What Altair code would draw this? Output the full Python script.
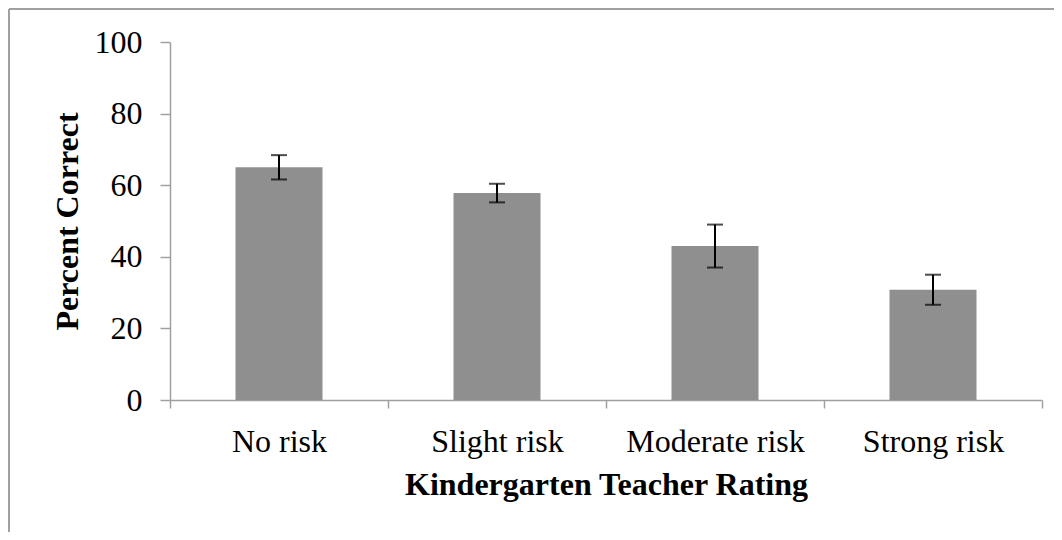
import altair as alt
import pandas as pd

categories = ["No risk", "Slight risk", "Moderate risk", "Strong risk"]
values = [65.0, 57.8, 43.0, 30.8]
errors = [3.4, 2.6, 6.0, 4.2]

df = pd.DataFrame({"cat": categories, "val": values, "err": errors})
df["lo"] = df["val"] - df["err"]
df["hi"] = df["val"] + df["err"]

FONT = "Liberation Serif"
GRAY = "#a0a0a0"

x_enc = alt.X(
    "cat:N",
    sort=categories,
    title="Kindergarten Teacher Rating",
    scale=alt.Scale(paddingInner=0, paddingOuter=0),
    axis=alt.Axis(
        labelAngle=0, tickBand="extent", tickSize=8, labelPadding=18,
        titlePadding=12, labelFontSize=32, titleFontSize=32, labelLimit=400,
    ),
)

bars = alt.Chart(df).mark_bar(width=87, color="#8f8f8f").encode(
    x=x_enc,
    y=alt.Y(
        "val:Q",
        title="Percent Correct",
        scale=alt.Scale(domain=[0, 100], nice=False),
        axis=alt.Axis(
            values=[0, 20, 40, 60, 80, 100], tickSize=10, labelPadding=18,
            titlePadding=10, labelFontSize=32, titleFontSize=32,
        ),
    ),
)

rules = alt.Chart(df).mark_rule(color="black", strokeWidth=2).encode(
    x=alt.X("cat:N", sort=categories),
    y="lo:Q",
    y2="hi:Q",
)

caps_lo = alt.Chart(df).mark_tick(color="black", size=16, thickness=2, orient="horizontal").encode(
    x=alt.X("cat:N", sort=categories),
    y="lo:Q",
)
caps_hi = alt.Chart(df).mark_tick(color="black", size=16, thickness=2, orient="horizontal").encode(
    x=alt.X("cat:N", sort=categories),
    y="hi:Q",
)

border_top = alt.Chart(df).mark_rule(color=GRAY, strokeWidth=2).encode(
    x=alt.value(-161), x2=alt.value(884), y=alt.value(-33)
)
border_left = alt.Chart(df).mark_rule(color=GRAY, strokeWidth=2).encode(
    x=alt.value(-161), y=alt.value(-33), y2=alt.value(490)
)

chart = alt.layer(bars, rules, caps_lo, caps_hi, border_top, border_left).properties(
    width=872,
    height=358,
    background="white",
    autosize=alt.AutoSizeParams(type="none"),
    padding={"left": 162, "top": 34, "right": 12, "bottom": 132},
).configure_view(stroke=None).configure_axis(
    grid=False,
    domainColor=GRAY,
    domainWidth=1.5,
    tickColor=GRAY,
    tickWidth=1.5,
    labelFont=FONT,
    titleFont=FONT,
    labelColor="black",
    titleColor="black",
    titleFontWeight="bold",
)

chart.save("out.html", embed_options={"renderer": "svg", "actions": False})
